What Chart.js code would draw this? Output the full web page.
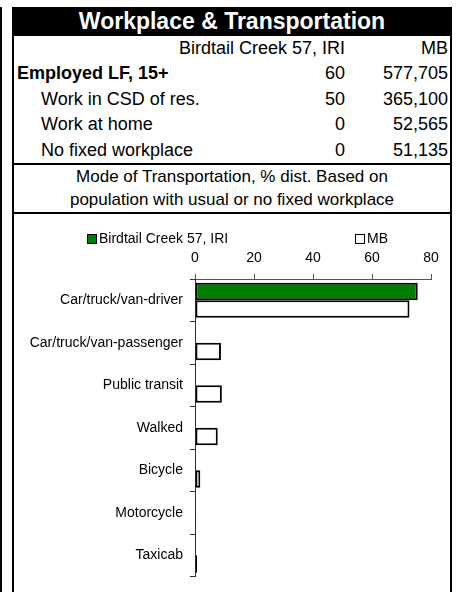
<!DOCTYPE html>
<html>
<head>
<meta charset="utf-8">
<script src="https://cdn.jsdelivr.net/npm/chart.js@4"></script>
<style>
  html, body { margin: 0; padding: 0; background: #fff; width: 457px; height: 592px; overflow: hidden; }
  body { position: relative; font-family: Arial, "Liberation Sans", sans-serif; color: #000; }
  .edge { position: absolute; left: 0; top: 7px; width: 2px; bottom: 0; background: #000; }
  .frame { position: absolute; left: 12px; top: 7px; width: 436px; bottom: -10px;
           border-left: 2px solid #000; border-right: 2px solid #000; }
  .title { height: 29px; background: #000; color: #fff; font-weight: bold; font-size: 23px;
           line-height: 28px; text-align: center; }
  .row { position: relative; height: 25.4px; line-height: 25.4px; font-size: 18px; }
  .row .lbl { position: absolute; left: 3px; }
  .row .lbl.ind { left: 27px; }
  .row .v1 { position: absolute; right: 105px; }
  .row .v2 { position: absolute; right: 2px; }
  .sep { height: 2px; background: #000; }
  .mode { font-size: 17px; line-height: 23.5px; text-align: center; }
  .chartbox { position: relative; height: 380px; }
  canvas { position: absolute; left: 0; top: 0; }
  .leg { position: absolute; font-size: 14px; line-height: 14px; white-space: nowrap; }
  .leg i { display: inline-block; width: 8px; height: 8px; border: 1px solid #000; margin-right: 2px; vertical-align: -1px; }
</style>
</head>
<body>
<div class="edge"></div>
<div class="frame">
  <div class="title">Workplace &amp; Transportation</div>
  <div id="rows"></div>
  <div class="sep"></div>
  <div class="mode">Mode of Transportation, % dist. Based on<br>population with usual or no fixed workplace</div>
  <div class="sep"></div>
  <div class="chartbox">
    <canvas id="c" width="436" height="378"></canvas>
    <div id="legend"></div>
  </div>
</div>
<script>
// summary table
const placeNames = ["Birdtail Creek 57, IRI", "MB"];
const rowLabels = ["Employed LF, 15+", "Work in CSD of res.", "Work at home", "No fixed workplace"];
const placeValues = ["60", "50", "0", "0"];
const mbValues = ["577,705", "365,100", "52,565", "51,135"];

// mode of transportation, % dist.
const categories = ["Car/truck/van-driver", "Car/truck/van-passenger", "Public transit", "Walked", "Bicycle", "Motorcycle", "Taxicab"];
const placeShare = [75.5, 0, 0, 0, 0, 0, 0];
const mbShare = [72.7, 8.8, 9.1, 7.7, 1.8, 0.4, 0.7];
const xTicks = [0, 20, 40, 60, 80];

const colors = { place: "#008000", mb: "#ffffff" };

(function () {
  const rows = document.getElementById("rows");
  let h = '<div class="row"><span class="v1">' + placeNames[0] + '</span><span class="v2">' + placeNames[1] + '</span></div>';
  rowLabels.forEach((l, i) => {
    const cls = i === 0 ? 'lbl" style="font-weight:bold' : 'lbl ind';
    h += '<div class="row"><span class="' + cls + '">' + l + '</span><span class="v1">' + placeValues[i] +
      '</span><span class="v2">' + mbValues[i] + '</span></div>';
  });
  rows.innerHTML = h;

  const leg = document.getElementById("legend");
  leg.innerHTML =
    '<div class="leg" style="left:73px;top:17px"><i style="background:' + colors.place + '"></i>' + placeNames[0] + '</div>' +
    '<div class="leg" style="left:341px;top:17px"><i style="background:' + colors.mb + '"></i>' + placeNames[1] + '</div>';
})();

const font = { family: "Arial, 'Liberation Sans', sans-serif", size: 14 };

new Chart(document.getElementById("c"), {
  type: "bar",
  data: {
    labels: categories,
    datasets: [
      { label: placeNames[0], data: placeShare, backgroundColor: colors.place },
      { label: placeNames[1], data: mbShare, backgroundColor: colors.mb }
    ]
  },
  options: {
    indexAxis: "y",
    responsive: false,
    animation: false,
    events: [],
    datasets: { bar: { borderColor: "#000", borderWidth: 2, borderSkipped: false, categoryPercentage: 0.82, barPercentage: 1 } },
    layout: { padding: { left: 0, right: 19, top: 0, bottom: 7 } },
    plugins: { legend: { display: false }, tooltip: { enabled: false } },
    scales: {
      x: {
        position: "top", min: 0, max: 80,
        afterBuildTicks: s => { s.ticks = xTicks.map(v => ({ value: v })); },
        afterFit: s => { s.height = 65; },
        ticks: { font: font, color: "#000", padding: 7 },
        grid: { drawOnChartArea: false, tickLength: 5, color: "#555" },
        border: { color: "#555" }
      },
      y: {
        afterFit: s => { s.width = 181; },
        ticks: { font: font, color: "#000", padding: 7 },
        grid: { drawOnChartArea: false, tickLength: 5, color: "#333", offset: true },
        border: { color: "#333" }
      }
    }
  }
});
</script>
</body>
</html>
